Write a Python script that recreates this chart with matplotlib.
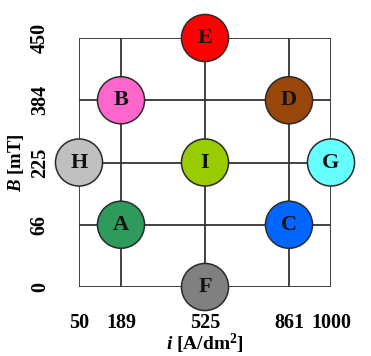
import matplotlib.pyplot as plt

# design levels (coded) and their real values
i_levels = [-1.5, -1, 0, 1, 1.5]
i_labels = ['50', '189', '525', '861', '1000']
b_levels = [0, 1, 2, 3, 4]
b_labels = ['0', '66', '225', '384', '450']

# experimental points: name, i level index, B level index, colour
names = ['A', 'B', 'C', 'D', 'E', 'F', 'G', 'H', 'I']
pt_i = [1, 1, 3, 3, 2, 2, 4, 0, 2]
pt_b = [1, 3, 1, 3, 4, 0, 2, 2, 2]
colors = ['#2e9a5c', '#ff66cc', '#0066ff', '#99460a', '#ff0000',
          '#808080', '#66ffff', '#c0c0c0', '#99cc00']

plt.rcParams['font.family'] = ['Liberation Serif', 'DejaVu Serif']
plt.rcParams['mathtext.fontset'] = 'custom'
plt.rcParams['mathtext.rm'] = 'Liberation Serif'
plt.rcParams['mathtext.it'] = 'Liberation Serif:italic:bold'
plt.rcParams['mathtext.bf'] = 'Liberation Serif:bold'

fig = plt.figure(figsize=(3.71, 3.56), dpi=100)
ax = fig.add_axes([79 / 371, 69 / 356, 252 / 371, 249 / 356])

# grid lines
for x in i_levels:
    ax.plot([x, x], [b_levels[0], b_levels[-1]], color='#333333', lw=1.3, zorder=1)
for y in b_levels:
    ax.plot([i_levels[0], i_levels[-1]], [y, y], color='#333333', lw=1.3, zorder=1)

xs = [i_levels[k] for k in pt_i]
ys = [b_levels[k] for k in pt_b]
ax.scatter(xs, ys, s=1150, c=colors, edgecolors='#2a2a2a', linewidths=1.1,
           zorder=3, clip_on=False)
for name, x, y in zip(names, xs, ys):
    ax.text(x, y, name, ha='center', va='center', fontsize=16,
            fontweight='bold', color='#111111', zorder=4)

ax.set_xlim(i_levels[0], i_levels[-1])
ax.set_ylim(b_levels[0], b_levels[-1])
for s in ax.spines.values():
    s.set_visible(False)

ax.set_xticks(i_levels)
ax.set_xticklabels(i_labels, fontsize=14.5, fontweight='bold')
ax.set_yticks(b_levels)
ax.set_yticklabels(b_labels, fontsize=14.5, fontweight='bold', rotation=90,
                   va='center')
ax.tick_params(axis='x', length=0, pad=19)
ax.tick_params(axis='y', length=0, pad=21)

ax.set_xlabel(r'$i$ [A/dm$^\mathbf{2}$]', fontsize=14, fontweight='bold',
              labelpad=-1)
ax.set_ylabel(r'$B$ [mT]', fontsize=13.5, fontweight='bold', labelpad=3)

fig.savefig('out.png', dpi=100)
